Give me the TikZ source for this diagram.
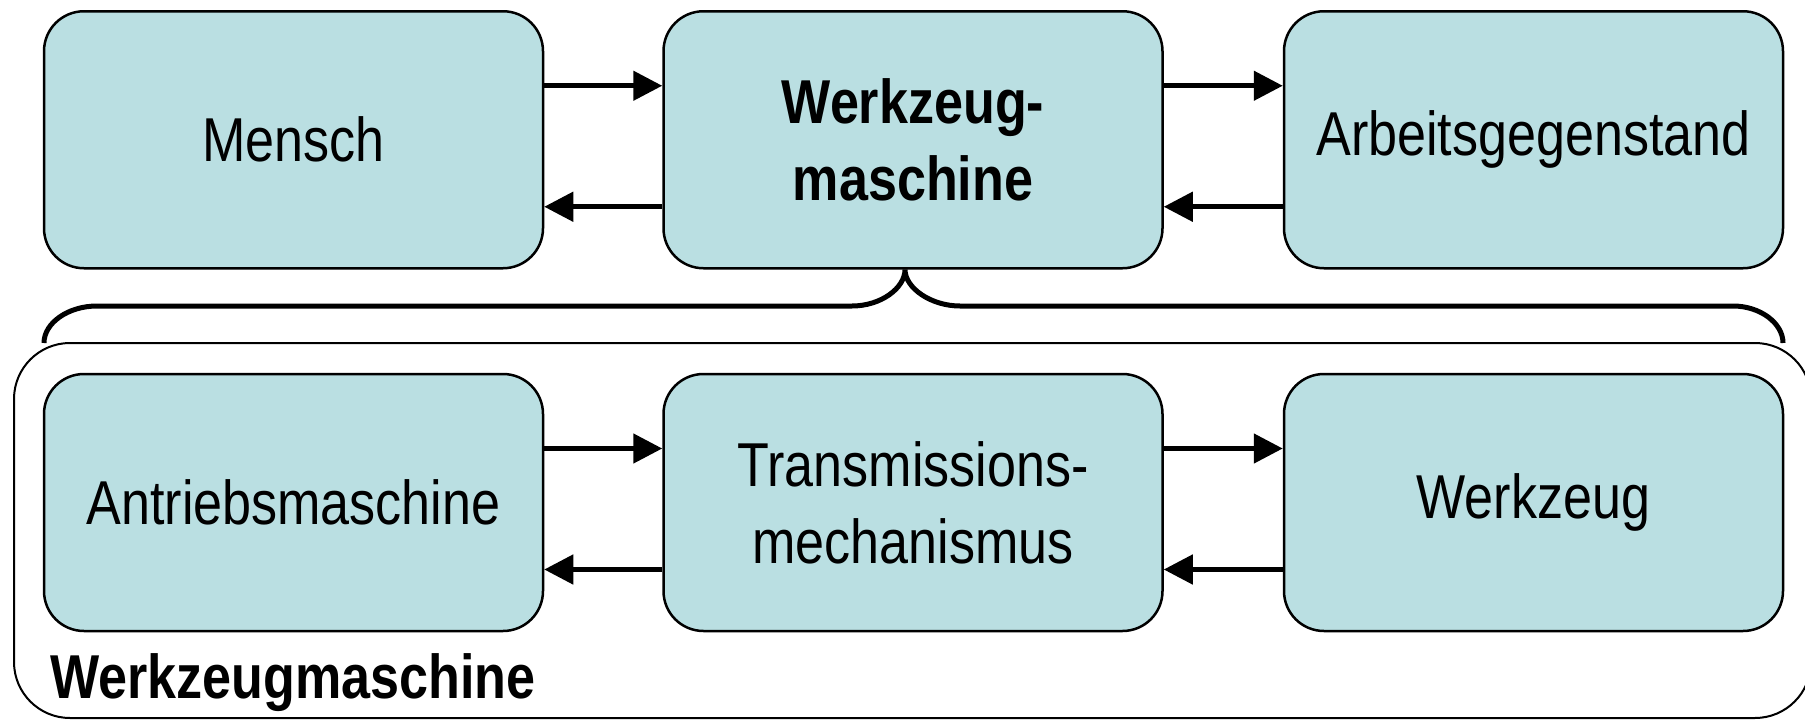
\documentclass[tikz,border=0pt]{standalone}
\usepackage{fontspec}
\setmainfont[FakeStretch=0.84]{Liberation Sans}
\usetikzlibrary{arrows.meta}
\definecolor{boxfill}{RGB}{186,223,226}

\begin{document}
\begin{tikzpicture}[x=0.5pt,y=0.5pt,
    block/.style={draw,line width=1.25pt,fill=boxfill,rounded corners=20pt,
        minimum width=249.5pt,minimum height=128.5pt,inner sep=0pt,align=center,
        font=\fontsize{31}{38.5}\selectfont},
    flow/.style={-{Triangle[length=14.5pt,width=14.5pt]},line width=2.4pt}]
    \useasboundingbox (0,0) rectangle (1805,720);

    % outer frame of the machine
    \draw[line width=1pt,rounded corners=28pt] (14,2) rectangle (1811,377);
    \node[anchor=base west,inner sep=0pt,font=\fontsize{31}{38.5}\selectfont\bfseries]
        (frame) at (50,22) {Werkzeugmaschine};

    % upper row
    \node[block] (mensch) at (293.5,580.25) {Mensch};
    \node[block,font=\fontsize{31}{38.5}\selectfont\bfseries] (wzm) at (913,580.25)
        {Werkzeug-\\maschine};
    \node[block] (arbeit) at (1533.5,580.25) {Arbeitsgegenstand};

    % lower row
    \node[block] (antrieb) at (293.5,217.5) {Antriebsmaschine};
    \node[block] (trans) at (913,217.5) {Transmissions-\\mechanismus};
    \node[block] (wz) at (1533.5,217.5) {Werkzeug};

    \draw[flow] ([yshift=27pt]mensch.east) -- ([yshift=27pt]wzm.west);
    \draw[flow] ([yshift=-33.5pt]wzm.west) -- ([yshift=-33.5pt]mensch.east);
    \draw[flow] ([yshift=27pt]wzm.east) -- ([yshift=27pt]arbeit.west);
    \draw[flow] ([yshift=-33.5pt]arbeit.west) -- ([yshift=-33.5pt]wzm.east);
    \draw[flow] ([yshift=27pt]antrieb.east) -- ([yshift=27pt]trans.west);
    \draw[flow] ([yshift=-33.5pt]trans.west) -- ([yshift=-33.5pt]antrieb.east);
    \draw[flow] ([yshift=27pt]trans.east) -- ([yshift=27pt]wz.west);
    \draw[flow] ([yshift=-33.5pt]wz.west) -- ([yshift=-33.5pt]trans.east);

    % brace below the machine
    \coordinate (tip) at ([xshift=-4pt]wzm.south);
    \draw[line width=2.5pt] (44,377) .. controls (44,397) and (68,414) .. (97,414)
        -- (852,414) .. controls (881,414) and (tip|-0,432) .. (tip)
        .. controls (tip|-0,432) and (931,414) .. (960,414)
        -- (1733,414) .. controls (1760,414) and (1783,397) .. (1783,377);
\end{tikzpicture}
\end{document}
